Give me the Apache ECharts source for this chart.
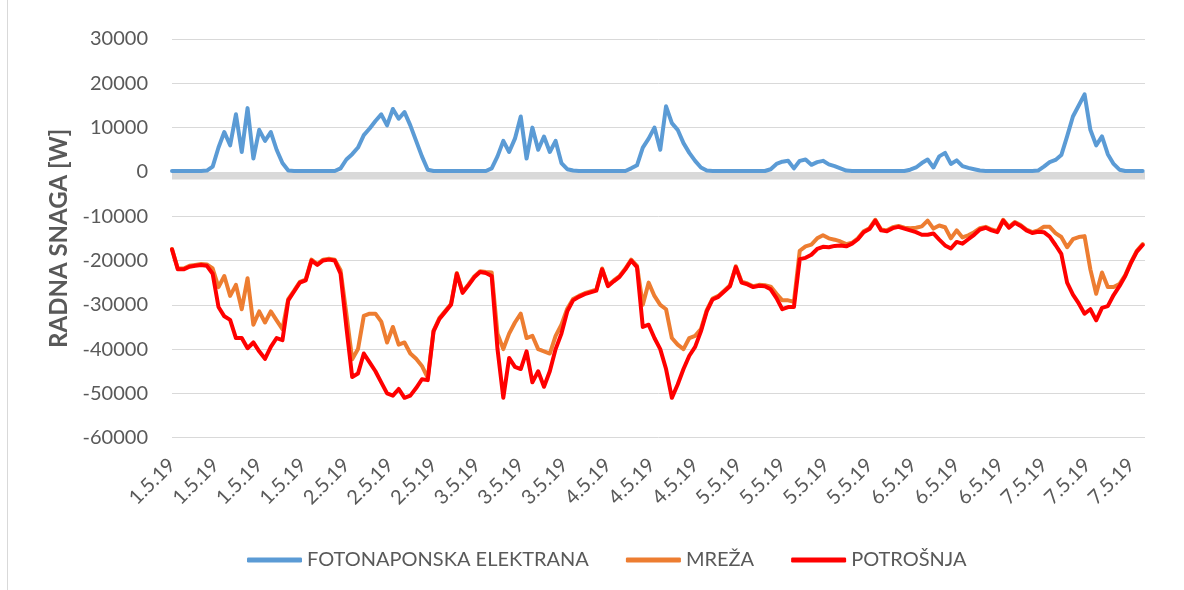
<!DOCTYPE html>
<html>
<head>
<meta charset="utf-8">
<title>Radna snaga</title>
<script src="https://cdn.jsdelivr.net/npm/echarts@6/dist/echarts.min.js"></script>
<style>
  html, body { margin: 0; padding: 0; background: #fff; }
  #chart { width: 1184px; height: 590px; }
</style>
</head>
<body>
<div id="chart"></div>
<script>
// Hourly samples, 1.5.2019 00:00 onwards (one row per day), power in W
const stepHours = 1;

const fotonaponska = [
  200, 200, 200, 200, 200, 200, 300, 1200, 5500, 9000, 6000, 13000, 4500, 14400, 3000, 9500, 7000, 9000, 5000, 2000, 300, 200, 200, 200,
  200, 200, 200, 200, 200, 800, 2800, 4000, 5500, 8300, 9800, 11500, 13000, 10500, 14200, 12000, 13500, 10500, 7000, 3500, 500, 200, 200, 200,
  200, 200, 200, 200, 200, 200, 200, 800, 3500, 7000, 4500, 7500, 12500, 3000, 10000, 5000, 8000, 4500, 7000, 2000, 600, 300, 200, 200,
  200, 200, 200, 200, 200, 200, 200, 800, 1500, 5500, 7500, 10000, 5000, 14800, 11000, 9500, 6500, 4300, 2500, 1000, 300, 200, 200, 200,
  200, 200, 200, 200, 200, 200, 200, 600, 1800, 2300, 2500, 800, 2500, 2800, 1600, 2200, 2500, 1700, 1300, 800, 300, 200, 200, 200,
  200, 200, 200, 200, 200, 200, 200, 500, 1000, 2000, 2800, 1000, 3500, 4300, 1800, 2600, 1300, 900, 600, 300, 200, 200, 200, 200,
  200, 200, 200, 200, 200, 300, 1200, 2200, 2700, 3800, 8000, 12500, 15000, 17500, 9500, 6000, 8000, 4000, 1800, 500, 200, 200, 200, 200
];

const mreza = [
  -17400, -21800, -21800, -21200, -21000, -20800, -20900, -21800, -26000, -23500, -28000, -25500, -31000, -24000, -34500, -31500, -34000, -31500, -33500, -35500, -28700, -26800, -24800, -24300,
  -19800, -20800, -19800, -19600, -19800, -22200, -32000, -42300, -40000, -32500, -32000, -32000, -33800, -38500, -35000, -39000, -38500, -41000, -42200, -43800, -46500, -35800, -33000, -31400,
  -29800, -22800, -27100, -25400, -23600, -22400, -22600, -22700, -36500, -40000, -36500, -34000, -32000, -37500, -37000, -40000, -40500, -41000, -37000, -34500, -30900, -28700, -28000, -27400,
  -27000, -26600, -21800, -25600, -24500, -23500, -21800, -19800, -21200, -30000, -25000, -28000, -30000, -31000, -37500, -39000, -40000, -37500, -37000, -35500, -31200, -28600, -28000, -26800,
  -25600, -21300, -24800, -25200, -25800, -25500, -25600, -25900, -27500, -29000, -29000, -29300, -17800, -16800, -16400, -15000, -14300, -15000, -15300, -15700, -16300, -16000, -15000, -13400,
  -12700, -10800, -13000, -13200, -12500, -12200, -12600, -12700, -12600, -12300, -11000, -12800, -12100, -12500, -15000, -13200, -14800, -14300, -13600, -12700, -12400, -13000, -13400, -10800,
  -12400, -11300, -12000, -13000, -13600, -13200, -12400, -12400, -13800, -14700, -17000, -15200, -14700, -14500, -22000, -27500, -22700, -26000, -26000, -25300, -23300, -20300, -17800, -16300
];

const potrosnja = [
  -17500, -22000, -22000, -21400, -21200, -21000, -21200, -23000, -30500, -32600, -33400, -37500, -37500, -39800, -38500, -40500, -42200, -39500, -37500, -38000, -29000, -27000, -25000, -24500,
  -20000, -21000, -20000, -19800, -20000, -23000, -35000, -46300, -45500, -41000, -43000, -45000, -47500, -50000, -50500, -49000, -51000, -50500, -48800, -46800, -47000, -36000, -33200, -31600,
  -30000, -23000, -27300, -25600, -23800, -22600, -22800, -23500, -40000, -51000, -42000, -44000, -44500, -40500, -47500, -45000, -48500, -45000, -40000, -36500, -31500, -29000, -28200, -27600,
  -27200, -26800, -22000, -25800, -24700, -23700, -22000, -20000, -21500, -35000, -34500, -37500, -40000, -44500, -51000, -48000, -44500, -41500, -39500, -36000, -31500, -28800, -28200, -27000,
  -25800, -21500, -25000, -25400, -26000, -25700, -25800, -26500, -28500, -31000, -30500, -30500, -19700, -19400, -18700, -17400, -16900, -17000, -16700, -16600, -16800, -16200, -15200, -13600,
  -12900, -11000, -13200, -13400, -12700, -12400, -12800, -13200, -13600, -14200, -14200, -13900, -15300, -16600, -17300, -15800, -16200, -15200, -14200, -13000, -12600, -13200, -13600, -11000,
  -12600, -11500, -12200, -13200, -13800, -13500, -13600, -14600, -16500, -18500, -25000, -27700, -29700, -32000, -31000, -33500, -30700, -30300, -27800, -25800, -23500, -20500, -18000, -16500
];

// Category labels shown every 7.5 h along the time axis
const tickLabels = [
  '1.5.19', '1.5.19', '1.5.19', '1.5.19',
  '2.5.19', '2.5.19', '2.5.19',
  '3.5.19', '3.5.19', '3.5.19',
  '4.5.19', '4.5.19', '4.5.19',
  '5.5.19', '5.5.19', '5.5.19', '5.5.19',
  '6.5.19', '6.5.19', '6.5.19',
  '7.5.19', '7.5.19', '7.5.19'
];
const labelStepHours = 7.5;

const seriesNames = ['FOTONAPONSKA ELEKTRANA', 'MREŽA', 'POTROŠNJA'];
const seriesColors = ['#5B9BD5', '#ED7D31', '#FF0000'];

const toPoints = arr => arr.map((v, i) => [i * stepHours, v]);

const textColor = '#595959';
const fontFamily = 'Lato, "Open Sans", sans-serif';

const chart = echarts.init(document.getElementById('chart'), null, { renderer: 'canvas' });

const lineSeries = (idx, values, extra) => Object.assign({
  name: seriesNames[idx],
  type: 'line',
  data: toPoints(values),
  showSymbol: false,
  symbol: 'none',
  color: seriesColors[idx],
  lineStyle: { width: 4, color: seriesColors[idx], join: 'round', cap: 'round' }
}, extra || {});

chart.setOption({
  animation: false,
  backgroundColor: '#ffffff',
  textStyle: { fontFamily: fontFamily },
  graphic: [{
    type: 'line',
    shape: { x1: 7.5, y1: 0, x2: 7.5, y2: 590 },
    style: { stroke: '#D9D9D9', lineWidth: 1 },
    silent: true
  }],
  grid: { left: 172, right: 39, top: 39, bottom: 152.3 },
  legend: {
    data: seriesNames,
    left: 242,
    top: 545,
    icon: 'roundRect',
    itemWidth: 55,
    itemHeight: 5,
    itemGap: 37,
    textStyle: { color: textColor, fontSize: 20, fontFamily: fontFamily }
  },
  xAxis: {
    type: 'value',
    min: 0,
    max: 167.4,
    interval: labelStepHours,
    axisLine: { show: false, onZero: false },
    axisTick: { show: false },
    splitLine: { show: false },
    axisLabel: {
      rotate: 45,
      margin: 24,
      color: textColor,
      fontSize: 20,
      fontFamily: fontFamily,
      showMaxLabel: false,
      formatter: function (v) {
        const k = v / labelStepHours;
        if (Math.abs(k - Math.round(k)) > 1e-6) return '';
        return tickLabels[Math.round(k)] || '';
      }
    }
  },
  yAxis: {
    type: 'value',
    min: -60000,
    max: 30000,
    interval: 10000,
    name: 'RADNA SNAGA [W]',
    nameLocation: 'middle',
    nameGap: 92,
    nameTextStyle: { color: textColor, fontSize: 24, fontWeight: 'bold', fontFamily: fontFamily },
    axisLine: { show: false },
    axisTick: { show: false },
    axisLabel: {
      color: textColor, fontSize: 20, margin: 24, fontFamily: fontFamily,
      formatter: v => String(v)
    },
    splitLine: { lineStyle: { color: '#D9D9D9', width: 1 } }
  },
  series: [
    lineSeries(0, fotonaponska, {
      markArea: {
        silent: true,
        z: 1,
        itemStyle: { color: '#D9D9D9' },
        data: [[{ yAxis: 0 }, { yAxis: -1700 }]]
      }
    }),
    lineSeries(1, mreza),
    lineSeries(2, potrosnja)
  ]
});
</script>
</body>
</html>
